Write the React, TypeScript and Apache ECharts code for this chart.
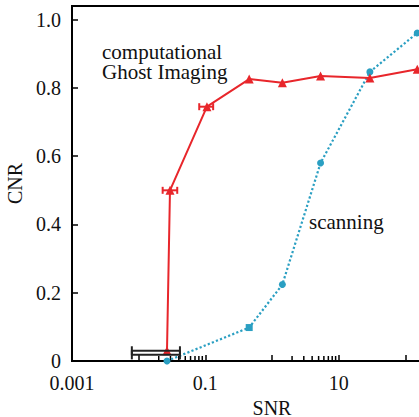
import React, { useEffect, useRef } from 'react';
import * as echarts from 'echarts';

// Computational ghost imaging (red)
const snrGhost = [0.0266, 0.0295, 0.1057, 0.455, 1.43, 5.35, 29.4, 151];
const cnrGhost = [0.03, 0.5, 0.745, 0.826, 0.815, 0.835, 0.829, 0.855];
// Horizontal error bars on the ghost imaging points
const ghostErrLow = [0.0229, 0.081];
const ghostErrHigh = [0.0379, 0.131];
const ghostErrCnr = [0.5, 0.745];

// Scanning (cyan)
const snrScan = [0.0266, 0.455, 1.43, 5.35, 29.4, 151];
const cnrScan = [0, 0.098, 0.224, 0.58, 0.847, 0.961];
const scanSymbols = ['circle', 'rect', 'circle', 'circle', 'circle', 'circle'];

// Black error bars at the bottom
const blackErrLow = [0.0079, 0.0079];
const blackErrHigh = [0.0416, 0.0416];
const blackErrCnr = [0.03, 0.018];

// Axis ticks
const xLabeled = ['0.001', '0.1', '10'];
const xMinorTicks = [0.02, 0.03, 0.04, 0.05, 0.06, 0.07, 0.08, 0.09, 2, 3, 4, 5, 6, 7, 8, 9];

const RED = '#e8262b';
const CYAN = '#2a9fc2';
const FONT = 'Liberation Serif';

function errRender(color: string, cap: number) {
  return (params: any, api: any) => {
    const lo = api.coord([api.value(0), api.value(2)]);
    const hi = api.coord([api.value(1), api.value(2)]);
    const st = { stroke: color, lineWidth: 2 };
    return {
      type: 'group',
      children: [
        { type: 'line', shape: { x1: lo[0], y1: lo[1], x2: hi[0], y2: hi[1] }, style: st },
        { type: 'line', shape: { x1: lo[0], y1: lo[1] - cap, x2: lo[0], y2: lo[1] + cap }, style: st },
        { type: 'line', shape: { x1: hi[0], y1: hi[1] - cap, x2: hi[0], y2: hi[1] + cap }, style: st },
      ],
    };
  };
}

export default function App() {
  const ref = useRef<HTMLDivElement>(null);
  useEffect(() => {
    if (!ref.current) return;
    const chart = echarts.init(ref.current, undefined, { renderer: 'svg' });
    const fmtX = (v: number) => {
      const e = Math.round(Math.log10(v));
      const s = e < 0 ? v.toFixed(-e) : String(Math.round(v));
      return xLabeled.indexOf(s) >= 0 ? s : '';
    };
    const txt = { fontFamily: FONT, fontSize: 20, color: '#111' };
    chart.setOption({
      animation: false,
      backgroundColor: '#fff',
      textStyle: { fontFamily: FONT },
      grid: {
        left: 72,
        right: -53,
        top: 6,
        bottom: 56,
        show: true,
        borderColor: '#000',
        borderWidth: 2,
        outerBoundsMode: 'none',
        containLabel: false,
      },
      xAxis: {
        type: 'log',
        logBase: 10,
        min: 0.001,
        max: 1000,
        name: 'SNR',
        nameLocation: 'middle',
        nameGap: 28,
        nameTextStyle: txt,
        axisLine: { lineStyle: { color: '#000', width: 2 } },
        axisTick: { inside: true, length: 6, lineStyle: { color: '#000', width: 1.5 } },
        axisLabel: { formatter: fmtX, ...txt, margin: 12 },
        splitLine: { show: false },
        minorTick: { show: false },
      },
      yAxis: {
        type: 'value',
        min: 0,
        max: 1.04,
        interval: 0.2,
        name: 'CNR',
        nameLocation: 'middle',
        nameGap: 42,
        nameTextStyle: txt,
        axisLine: { lineStyle: { color: '#000', width: 2 } },
        axisTick: { inside: true, length: 6, lineStyle: { color: '#000', width: 1.5 } },
        axisLabel: {
          showMaxLabel: false,
          formatter: (v: number) => (v === 0 ? '0' : v.toFixed(1)),
          ...txt,
          margin: 11,
        },
        splitLine: { show: false },
      },
      graphic: [
        { type: 'text', left: 102, top: 41, style: { text: 'computational', fontFamily: FONT, fontSize: 21, fill: '#111' } },
        { type: 'text', left: 102, top: 61, style: { text: 'Ghost Imaging', fontFamily: FONT, fontSize: 21, fill: '#111' } },
        { type: 'text', left: 309, top: 211, style: { text: 'scanning', fontFamily: FONT, fontSize: 21, fill: '#111' } },
      ],
      series: [
        {
          type: 'custom',
          name: 'minorTicks',
          z: 1,
          renderItem: (params: any, api: any) => {
            const p = api.coord([api.value(0), 0]);
            return {
              type: 'line',
              shape: { x1: p[0], y1: p[1], x2: p[0], y2: p[1] - 5 },
              style: { stroke: '#000', lineWidth: 1.5 },
            };
          },
          data: xMinorTicks.map((v) => [v, 0]),
          silent: true,
        },
        {
          type: 'line',
          name: 'scanning',
          z: 3,
          data: snrScan.map((x, i) => ({ value: [x, cnrScan[i]], symbol: scanSymbols[i] })),
          symbolSize: 7,
          lineStyle: { color: CYAN, width: 2.2, type: 'dotted' },
          itemStyle: { color: CYAN },
          clip: false,
        },
        {
          type: 'line',
          name: 'computational Ghost Imaging',
          z: 4,
          data: snrGhost.map((x, i) => [x, cnrGhost[i]]),
          symbol: 'triangle',
          symbolSize: 9,
          lineStyle: { color: RED, width: 2 },
          itemStyle: { color: RED },
          clip: false,
        },
        {
          type: 'custom',
          name: 'ghostErr',
          z: 5,
          encode: { x: [0, 1], y: 2 },
          renderItem: errRender(RED, 3.5),
          data: ghostErrCnr.map((y, i) => [ghostErrLow[i], ghostErrHigh[i], y]),
        },
        {
          type: 'custom',
          name: 'blackErr',
          z: 6,
          encode: { x: [0, 1], y: 2 },
          renderItem: errRender('#222', 4.5),
          data: blackErrCnr.map((y, i) => [blackErrLow[i], blackErrHigh[i], y]),
        },
      ],
    });
    return () => chart.dispose();
  }, []);
  return (
    <div
      ref={ref}
      style={{ position: 'fixed', left: 0, top: 0, width: 419, height: 417, background: '#fff' }}
    />
  );
}
